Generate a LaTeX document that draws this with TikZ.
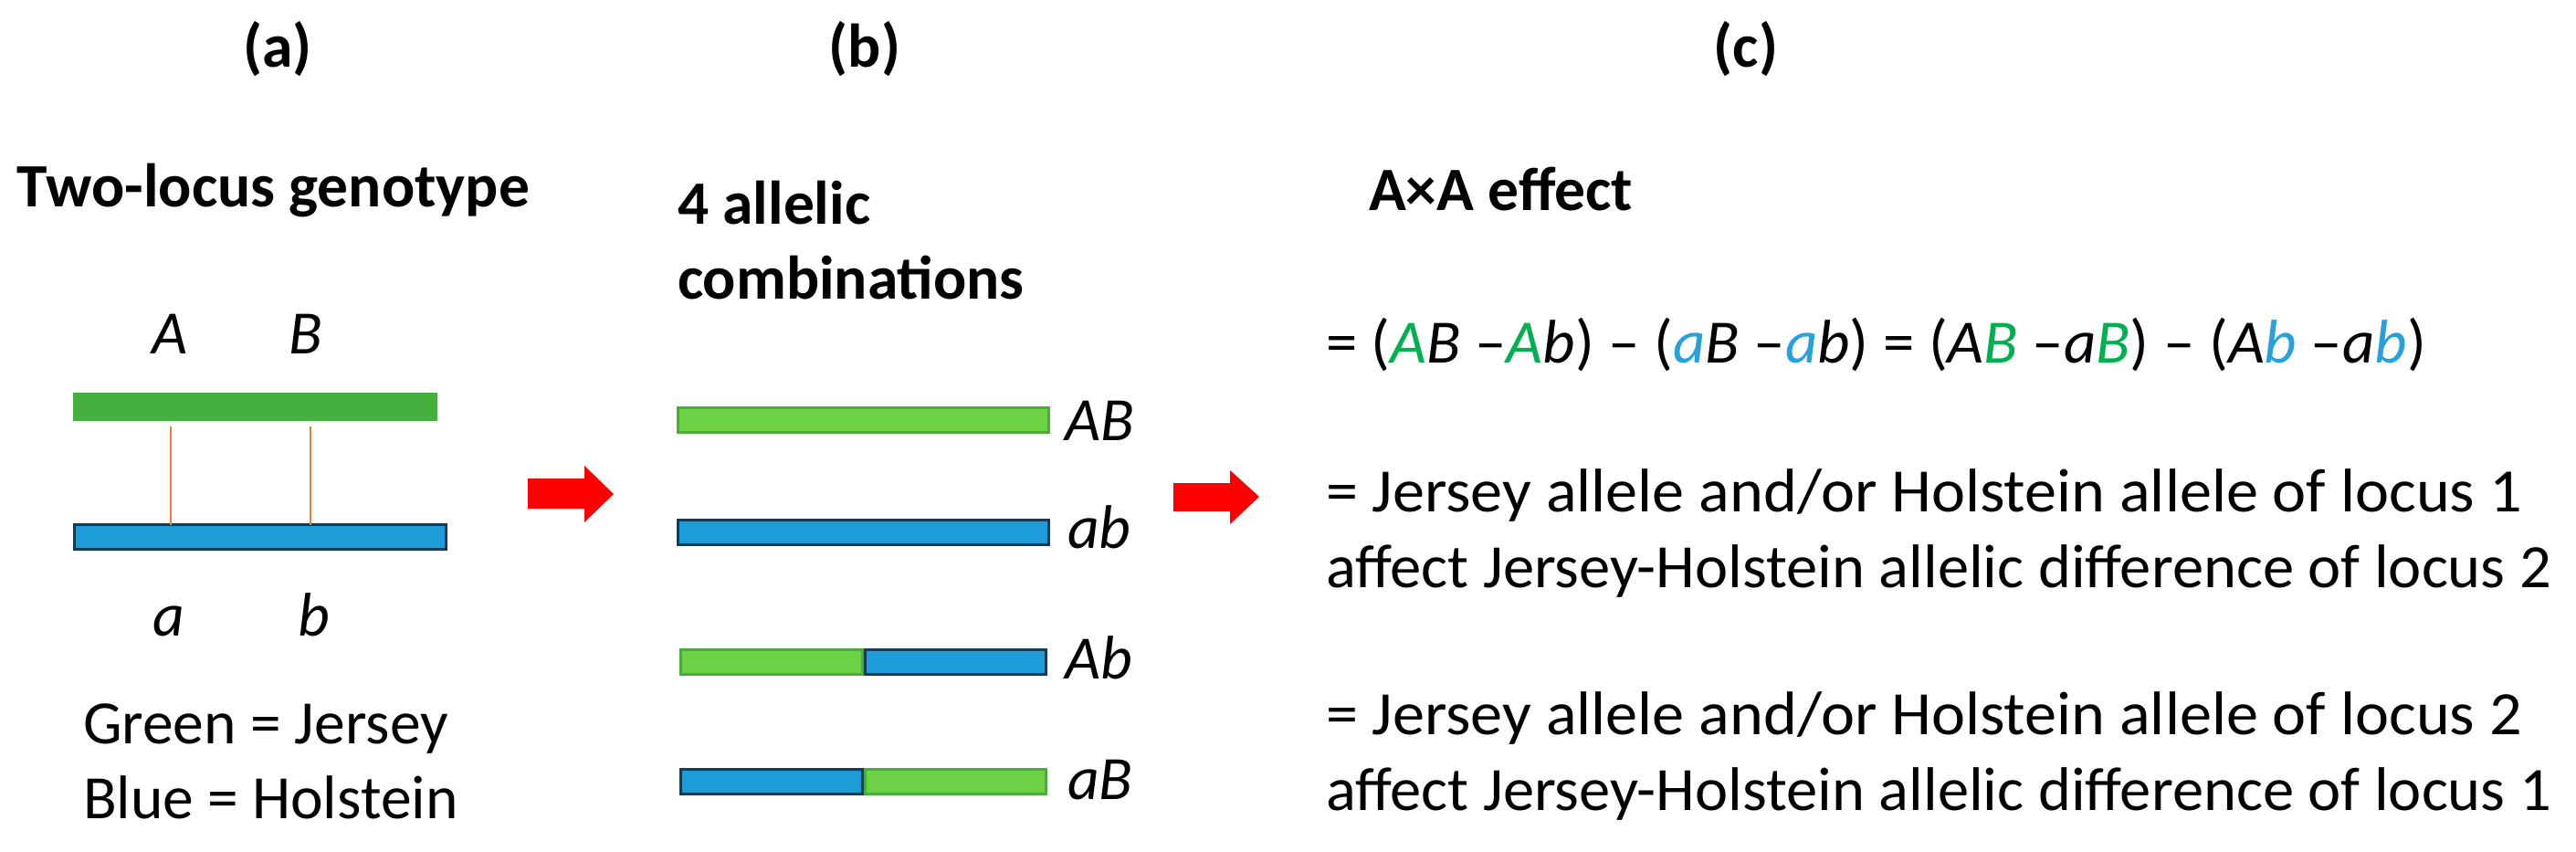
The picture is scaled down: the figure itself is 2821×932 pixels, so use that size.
\documentclass[tikz,border=0pt]{standalone}
\usepackage{fontspec}
\setmainfont{Carlito}
\definecolor{jgreenA}{RGB}{69,176,61}
\definecolor{jfill}{RGB}{108,209,68}
\definecolor{jdraw}{RGB}{74,170,58}
\definecolor{hfill}{RGB}{30,156,215}
\definecolor{hdraw}{RGB}{16,60,90}
\definecolor{locuscol}{RGB}{240,125,45}
\definecolor{eqgreen}{RGB}{0,176,80}
\definecolor{eqblue}{RGB}{40,160,220}
\newcommand{\gA}[1]{\textcolor{eqgreen}{#1}}
\newcommand{\bA}[1]{\textcolor{eqblue}{#1}}
\tikzset{
  txt/.style={inner sep=0pt, outer sep=0pt, font=\fontsize{67.5}{80}\selectfont},
  btxt/.style={txt, font=\fontsize{67.5}{80}\selectfont\bfseries},
  itxt/.style={txt, font=\fontsize{67.5}{80}\selectfont\itshape},
  plainbar/.style={rectangle, inner sep=0pt, outer sep=0pt},
  jbar/.style={plainbar, fill=jfill, draw=jdraw, line width=3pt},
  hbar/.style={plainbar, fill=hfill, draw=hdraw, line width=3pt},
  locus/.style={draw=locuscol, line width=2.5pt},
  redarrow/.style={fill=red}
}
\begin{document}
\begin{tikzpicture}[x=1pt,y=-1pt]
\useasboundingbox (0,0) rectangle (2821,932);
\fill[white] (0,0) rectangle (2821,932);

% panel labels
\node[btxt, anchor=base] (la) at (304,73) {(a)};
\node[btxt, anchor=base] (lb) at (947,73) {(b)};
\node[btxt, anchor=base] (lc) at (1912,73) {(c)};

% panel (a)
\node[btxt, anchor=base west] (ta) at (19,226) {Two-locus genotype};
\node[itxt, anchor=base] (tA) at (186,387) {A};
\node[itxt, anchor=base] (tB) at (335,387) {B};
\node[plainbar, fill=jgreenA, minimum width=399pt, minimum height=31pt] (jA) at (279.5,445.5) {};
\node[hbar, minimum width=407pt, minimum height=27pt] (hA) at (285,588) {};
\coordinate (l1t) at (187,467);
\coordinate (l1b) at (187,575);
\coordinate (l2t) at (340,467);
\coordinate (l2b) at (340,575);
\draw[locus] (l1t) -- (l1b);
\draw[locus] (l2t) -- (l2b);
\node[itxt, anchor=base] (ta1) at (185,696) {a};
\node[itxt, anchor=base] (tb1) at (344,696) {b};
\node[txt, anchor=base west] (leg1) at (91,814) {Green = Jersey};
\node[txt, anchor=base west] (leg2) at (91,896) {Blue = Holstein};

% arrow 1
\fill[redarrow] (578,524) -- (640,524) -- (640,510) -- (672,541) -- (640,572) -- (640,557) -- (578,557) -- cycle;

% panel (b)
\node[btxt, anchor=base west] (tb4) at (742,245) {4 allelic};
\node[btxt, anchor=base west] (tbc) at (742,327) {combinations};
\node[jbar, minimum width=406pt, minimum height=27pt] (bAB) at (945.5,460) {};
\node[hbar, minimum width=406pt, minimum height=27pt] (bab) at (945.5,583) {};
\node[jbar, minimum width=199pt, minimum height=27pt] (bAb1) at (845,725) {};
\node[hbar, minimum width=198pt, minimum height=27pt] (bAb2) at (1046.5,725) {};
\node[jbar, minimum width=198pt, minimum height=27pt] (baB2) at (1046.5,856) {};
\node[hbar, minimum width=199pt, minimum height=27pt] (baB1) at (845,856) {};
\node[itxt, anchor=base west] (lAB) at (1166,482) {AB};
\node[itxt, anchor=base west] (lab) at (1169,600) {ab};
\node[itxt, anchor=base west] (lAb) at (1166,743) {Ab};
\node[itxt, anchor=base west] (laB) at (1169,875) {aB};

% arrow 2
\fill[redarrow] (1285,529) -- (1347,529) -- (1347,515) -- (1379,544) -- (1347,574) -- (1347,560) -- (1285,560) -- cycle;

% panel (c)
\node[btxt, anchor=base west] (tAA) at (1499,230) {A×A effect};
\node[txt, anchor=base west] (eq) at (1452,397) {\scalebox{1.02}[1]{=\ (\textit{\gA{A}B} –\textit{\gA{A}b}) – (\textit{\bA{a}B} –\textit{\bA{a}b}) = (\textit{A\gA{B}} –\textit{a\gA{B}}) – (\textit{A\bA{b}} –\textit{a\bA{b}})}};
\node[txt, anchor=base west] (c1) at (1452,560) {\scalebox{1.04}[1]{= Jersey allele and/or Holstein allele of locus 1}};
\node[txt, anchor=base west] (c2) at (1452,643) {\scalebox{1.015}[1]{affect Jersey-Holstein allelic difference of locus 2}};
\node[txt, anchor=base west] (c3) at (1452,804) {\scalebox{1.04}[1]{= Jersey allele and/or Holstein allele of locus 2}};
\node[txt, anchor=base west] (c4) at (1452,887) {\scalebox{1.015}[1]{affect Jersey-Holstein allelic difference of locus 1}};
\end{tikzpicture}
\end{document}
